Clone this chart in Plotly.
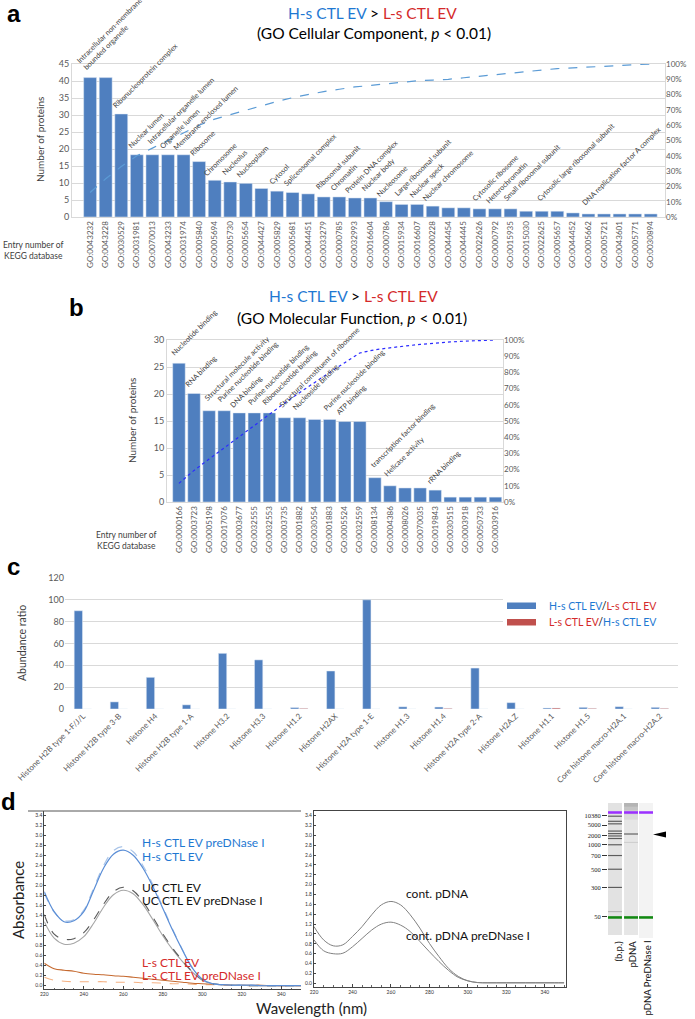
import plotly.graph_objects as go

W, H = 695, 1019
def px(x): return x / W
def py(y): return 1 - y / H

FONT = "Lato"
BLUE_T = "#1e78d2"
RED_T = "#d42a2a"
BAR = "#4f7fbf"
GRID = "#d9d9d9"
TICK = "#595959"

# ---------------- Panel a data ----------------
a_ids = ["GO:0043232","GO:0043228","GO:0030529","GO:0031981","GO:0070013","GO:0043233","GO:0031974",
         "GO:0005840","GO:0005694","GO:0005730","GO:0005654","GO:0044427","GO:0005829","GO:0005681",
         "GO:0044451","GO:0033279","GO:0000785","GO:0032993","GO:0016604","GO:0000786","GO:0015934",
         "GO:0016607","GO:0000228","GO:0044454","GO:0044445","GO:0022626","GO:0000792","GO:0015935",
         "GO:0015030","GO:0022625","GO:0005657","GO:0044452","GO:0005662","GO:0005721","GO:0043601",
         "GO:0005771","GO:0030894"]
a_counts = [41, 41, 30.3, 18.3, 18.3, 18.3, 18.3, 16.3, 10.8, 10.3, 9.9, 8.4, 7.6, 7.2, 6.8, 5.9, 5.9,
            5.6, 5.6, 4.5, 3.7, 3.7, 3.2, 2.7, 2.7, 2.4, 2.4, 2.4, 1.7, 1.7, 1.7, 1.2, 0.9, 0.9, 0.9, 0.9, 0.9]
a_cum_pct = [16, 25, 33, 40, 45, 50, 55, 60, 64, 67, 70, 73, 75.5, 78, 80, 82, 83.5, 85, 86, 87, 88, 89,
             89.5, 90, 91, 92, 93, 94, 95, 96, 97, 97.5, 98, 98.5, 99, 99.5, 100]
a_terms = ["Intracellular non-membrane-<br>bounded organelle", "", "Ribonucleoprotein complex",
           "Nuclear lumen", "Intracellular organelle lumen", "Organelle lumen", "Membrane-enclosed lumen",
           "Ribosome", "Chromosome", "Nucleolus", "Nucleoplasm", "", "Cytosol", "Spliceosomal complex", "",
           "Ribosomal subunit", "Chromatin", "Protein-DNA complex", "Nuclear body", "Nucleosome",
           "Large ribosomal subunit", "Nuclear speck", "Nuclear chromosome", "", "", "Cytosolic ribosome",
           "Heterochromatin", "Small ribosomal subunit", "", "Cytosolic large ribosomal subunit", "", "",
           "DNA replication factor A complex", "", "", "", ""]

# ---------------- Panel b data ----------------
b_ids = ["GO:0000166","GO:0003723","GO:0005198","GO:0017076","GO:0003677","GO:0032555","GO:0032553",
         "GO:0003735","GO:0001882","GO:0030554","GO:0001883","GO:0005524","GO:0032559","GO:0008134",
         "GO:0004386","GO:0008026","GO:0070035","GO:0019843","GO:0030515","GO:0003918","GO:0050733",
         "GO:0003916"]
b_counts = [25.7, 20.1, 16.9, 16.9, 16.5, 16.5, 16.5, 15.6, 15.6, 15.3, 15.3, 14.9, 14.9, 4.5, 3.0, 2.6,
            2.6, 2.2, 0.9, 0.9, 0.9, 0.9]
b_cum_pct = [11.5, 19.5, 26.5, 33.5, 40.5, 47.5, 54.5, 61, 67.5, 74, 80, 86, 92, 94, 95.3, 96.3, 97.3,
             98.2, 98.8, 99.3, 99.7, 100]
b_terms = ["Nucleotide binding", "RNA binding", "Structural molecule activity", "Purine nucleotide binding",
           "DNA binding", "Purine nucleotide binding", "Ribonucleotide binding",
           "Structural constituent of ribosome", "Nucleoside binding", "", "Purine nucleoside binding",
           "ATP binding", "", "transcription factor binding", "Helicase activity", "", "", "rRNA binding",
           "", "", "", ""]

# ---------------- Panel c data ----------------
c_cats = ["Histone H2B type 1-F/J/L", "Histone H2B type 3-B", "Histone H4", "Histone H2B type 1-A",
          "Histone H3.2", "Histone H3.3", "Histone H1.2", "Histone H2AX", "Histone H2A type 1-E",
          "Histone H1.3", "Histone H1.4", "Histone H2A type 2-A", "Histone H2A.Z", "Histone H1.1",
          "Histone H1.5", "Core histone macro-H2A.1", "Core histone macro-H2A.2"]
c_hs_ls = [90, 6.5, 29, 3.8, 51, 45, 1.3, 34.8, 100, 2.0, 1.8, 37.5, 5.8, 0.9, 1.5, 2.1, 1.5]
c_ls_hs = [0, 0, 0, 0, 0, 0, 0.6, 0, 0, 0, 0.6, 0, 0, 0.9, 0.6, 0, 0.6]

# ---------------- Panel d data ----------------
wl = [220, 225, 230, 235, 240, 245, 250, 255, 260, 265, 270, 275, 280, 285, 290, 295, 300, 305, 310,
      315, 320, 325, 330, 335, 340, 345, 350]
hs_ev = [1.88, 1.48, 1.28, 1.30, 1.48, 1.91, 2.35, 2.63, 2.71, 2.61, 2.35, 1.98, 1.55, 1.11, 0.71, 0.35,
         0.13, 0.04, 0.02, 0.01, 0.01, 0.01, 0.0, 0.0, 0.0, 0.0, 0.0]
hs_pre = [1.85, 1.47, 1.30, 1.32, 1.51, 1.95, 2.40, 2.70, 2.78, 2.68, 2.40, 2.02, 1.58, 1.13, 0.72, 0.36,
          0.13, 0.04, 0.02, 0.01, 0.01, 0.01, 0.0, 0.0, 0.0, 0.0, 0.0]
uc_ev = [1.28, 0.95, 0.83, 0.85, 0.98, 1.25, 1.57, 1.82, 1.91, 1.84, 1.62, 1.32, 1.00, 0.72, 0.48, 0.27,
         0.11, 0.04, 0.02, 0.01, 0.01, 0.0, 0.0, 0.0, 0.0, 0.0, 0.0]
uc_pre = [1.42, 1.03, 0.93, 0.94, 1.06, 1.32, 1.63, 1.88, 1.97, 1.90, 1.68, 1.37, 1.04, 0.75, 0.50, 0.28,
          0.12, 0.04, 0.02, 0.01, 0.01, 0.0, 0.0, 0.0, 0.0, 0.0, 0.0]
ls_ev = [0.45, 0.34, 0.31, 0.29, 0.25, 0.23, 0.22, 0.20, 0.19, 0.17, 0.15, 0.13, 0.11, 0.09, 0.07, 0.05,
         0.04, 0.03, 0.02, 0.01, 0.01, 0.01, 0.01, 0.0, 0.0, 0.0, 0.0]
ls_pre = [0.17, 0.11, 0.09, 0.08, 0.08, 0.08, 0.08, 0.07, 0.07, 0.07, 0.06, 0.06, 0.05, 0.04, 0.04, 0.03,
          0.02, 0.02, 0.01, 0.01, 0.01, 0.0, 0.0, 0.0, 0.0, 0.0, 0.0]
pdna = [1.15, 0.88, 0.76, 0.78, 0.95, 1.15, 1.39, 1.59, 1.66, 1.59, 1.39, 1.12, 0.81, 0.54, 0.30, 0.14,
        0.05, 0.015, 0.01, 0.01, 0.01, 0.01, 0.01, 0.01, 0.01, 0.01, 0.01]
pdna_pre = [0.88, 0.66, 0.60, 0.61, 0.74, 0.91, 1.08, 1.20, 1.24, 1.18, 1.05, 0.85, 0.64, 0.44, 0.26, 0.12,
            0.05, 0.015, 0.01, 0.01, 0.01, 0.01, 0.01, 0.01, 0.01, 0.01, 0.01]

# gel (migration distance from top of lane, arbitrary units)
ladder_bp = ["10380", "5000", "2000", "1000", "700", "500", "300", "50"]
ladder_tick_mig = [12.5, 22.7, 33, 42.3, 53.7, 67.7, 86.3, 116.3]
ladder_band_mig = [13.5, 18.7, 21.3, 28.7, 31.3, 33.7, 36.3, 42.7, 53.7, 67.7, 86.3]
pdna_band_mig = [31.7, 40.3]

fig = go.Figure()

# ---- a
fig.add_trace(go.Bar(x=a_ids, y=a_counts, marker_color=BAR, width=0.83, xaxis="x", yaxis="y",
                     showlegend=False))
fig.add_trace(go.Scatter(x=a_ids, y=a_cum_pct, mode="lines", xaxis="x", yaxis="y2",
                         line=dict(color="#5b9bd5", dash="dash", width=1.2), showlegend=False))
# ---- b
fig.add_trace(go.Bar(x=b_ids, y=b_counts, marker_color=BAR, width=0.83, xaxis="x2", yaxis="y3",
                     showlegend=False))
fig.add_trace(go.Scatter(x=b_ids, y=b_cum_pct, mode="lines", xaxis="x2", yaxis="y4",
                         line=dict(color="#2b2bff", dash="dot", width=1.2), showlegend=False))
# ---- c
fig.add_trace(go.Bar(x=c_cats, y=c_hs_ls, marker_color=BAR, width=0.23, offset=-0.245,
                     xaxis="x3", yaxis="y5", showlegend=False))
fig.add_trace(go.Bar(x=c_cats, y=c_ls_hs, marker_color="#c0504d", width=0.23, offset=0.005,
                     xaxis="x3", yaxis="y5", showlegend=False))
# ---- d left
for ys, col, dash, w in [(ls_pre, "#f4b183", "dash", 1.1), (ls_ev, "#c5692f", "solid", 1.1),
                         (uc_ev, "#a6a6a6", "solid", 1.1), (uc_pre, "#595959", "dash", 1.1),
                         (hs_pre, "#a9c4e8", "dash", 1.2), (hs_ev, "#5b8ed6", "solid", 1.2)]:
    fig.add_trace(go.Scatter(x=wl, y=ys, mode="lines", line=dict(color=col, dash=dash, width=w, shape="spline"),
                             xaxis="x4", yaxis="y6", showlegend=False))
# ---- d middle
for ys in [pdna, pdna_pre]:
    fig.add_trace(go.Scatter(x=wl, y=ys, mode="lines", line=dict(color="#808080", width=1, shape="spline"),
                             xaxis="x5", yaxis="y7", showlegend=False))

shapes = []
annotations = []

def ann(text, x, y, size, color="#000000", xanchor="center", yanchor="middle", angle=0, family=FONT, align="center"):
    annotations.append(dict(text=text, x=px(x), y=py(y), xref="paper", yref="paper", showarrow=False,
                            font=dict(size=size, color=color, family=family), xanchor=xanchor,
                            yanchor=yanchor, textangle=angle, align=align))

# panel letters
for t, x, y in [("a", 14, 13), ("b", 76, 308), ("c", 13, 566), ("d", 8, 801)]:
    ann("<b>%s</b>" % t, x, y, 24, "#000000", family="Liberation Sans")

title1 = ('<span style="color:%s">H-s CTL EV</span> &gt; <span style="color:%s">L-s CTL EV</span>'
          % (BLUE_T, RED_T))
ann(title1, 373, 13, 15.5)
ann("(GO Cellular Component, <i>p</i> &lt; 0.01)", 374, 33, 15.5)
ann(title1, 353, 296, 15.5)
ann("(GO Molecular Function, <i>p</i> &lt; 0.01)", 352, 318, 15.5)

# axis titles
ann("Number of proteins", 40, 140, 10, "#404040", angle=-90)
ann("Number of proteins", 132, 421, 10, "#404040", angle=-90)
ann("Entry number of<br>KEGG database", 33, 250, 8.5, "#404040")
ann("Entry number of<br>KEGG database", 126, 540, 8.5, "#404040")
ann("Abundance ratio", 22, 643, 10.5, "#404040", angle=-90)
ann("Absorbance", 18, 900, 15, "#222222", angle=-90)
ann("Wavelength (nm)", 311, 1008, 15, "#222222")

# bar labels a & b: rotated text, start just above the bar top
LBL_SIZE = 7.3
CHAR_W = 3.45
LINE_H = 9.5
def bar_label(text, i, val, xref, yref):
    lines = text.split("<br>")
    L = max(len(s) for s in lines) * CHAR_W
    h = LINE_H * len(lines)
    xs = -3 + 0.354 * L - 0.354 * h
    ys = 5 + 0.354 * L + 0.354 * h
    annotations.append(dict(text=text, x=i, y=val, xref=xref, yref=yref, showarrow=False,
                            textangle=-45, xanchor="center", yanchor="middle", xshift=xs, yshift=ys,
                            align="left", font=dict(size=LBL_SIZE, color="#404040", family=FONT)))

for i, t in enumerate(a_terms):
    if t:
        bar_label(t, i, a_counts[i], "x", "y")
for i, t in enumerate(b_terms):
    if t:
        bar_label(t, i, b_counts[i], "x2", "y3")

# legend c (manual)
shapes.append(dict(type="rect", xref="paper", yref="paper", x0=px(503), x1=px(682), y0=py(632), y1=py(572),
                   fillcolor="white", line=dict(width=0), layer="above"))
shapes.append(dict(type="rect", xref="paper", yref="paper", x0=px(507), x1=px(536), y0=py(609), y1=py(602.5),
                   fillcolor=BAR, line=dict(width=0)))
shapes.append(dict(type="rect", xref="paper", yref="paper", x0=px(507), x1=px(536), y0=py(625.5), y1=py(619),
                   fillcolor="#c0504d", line=dict(width=0)))
ann('<span style="color:%s">H-s CTL EV</span>/<span style="color:%s">L-s CTL EV</span>' % (BLUE_T, RED_T),
    547, 606, 10.5, xanchor="left")
ann('<span style="color:%s">L-s CTL EV</span>/<span style="color:%s">H-s CTL EV</span>' % (RED_T, BLUE_T),
    547, 622, 10.5, xanchor="left")

# d labels
ann("H-s CTL EV preDNase I", 140, 842, 12, BLUE_T, xanchor="left")
ann("H-s CTL EV", 140, 856, 12, BLUE_T, xanchor="left")
ann("UC CTL EV", 140, 887, 12, "#111111", xanchor="left")
ann("UC CTL EV preDNase I", 140, 900, 12, "#111111", xanchor="left")
ann("L-s CTL EV", 140, 962, 12, RED_T, xanchor="left")
ann("L-s CTL EV preDNase I", 140, 975, 12, RED_T, xanchor="left")
ann("cont. pDNA", 404, 893, 12, "#111111", xanchor="left")
ann("cont. pDNA preDNase I", 404, 935, 12, "#111111", xanchor="left")

# top frame line of left spectrum
shapes.append(dict(type="line", xref="paper", yref="paper", x0=px(28), x1=px(301), y0=py(811), y1=py(811),
                   line=dict(color="#555555", width=1)))

# gel lanes
lanes = [(0.0, 0.93, "#e2e2e2", 135), (1.07, 2.0, "#e6e6e6", 135), (2.07, 3.0, "#f3f3f3", 138)]
for x0, x1, col, bot in lanes:
    shapes.append(dict(type="rect", xref="x6", yref="y8", x0=x0, x1=x1, y0=0, y1=bot, fillcolor=col,
                       line=dict(width=0), layer="below"))
# pDNA smear
for (y0, y1, col) in [(0, 4, "#b4b4b4"), (4, 8, "#c4c4c4"), (8, 12, "#d0d0d0"), (12, 17, "#dbdbdb")]:
    shapes.append(dict(type="rect", xref="x6", yref="y8", x0=1.07, x1=2.0, y0=y0, y1=y1, fillcolor=col,
                       line=dict(width=0)))
for m in ladder_band_mig:
    shapes.append(dict(type="rect", xref="x6", yref="y8", x0=0.0, x1=0.93, y0=m - 0.6, y1=m + 0.6,
                       fillcolor="#5c5c5c", line=dict(width=0)))
shapes.append(dict(type="rect", xref="x6", yref="y8", x0=0.0, x1=0.93, y0=110.4, y1=111.6,
                   fillcolor="#b8b8b8", line=dict(width=0)))
for m, col in zip(pdna_band_mig, ["#606060", "#cfcfcf"]):
    shapes.append(dict(type="rect", xref="x6", yref="y8", x0=1.07, x1=2.0, y0=m - 0.6, y1=m + 0.6,
                       fillcolor=col, line=dict(width=0)))
for x0, x1, _, _ in lanes:
    shapes.append(dict(type="rect", xref="x6", yref="y8", x0=x0, x1=x1, y0=8.4, y1=11, fillcolor="#9b30ff",
                       line=dict(width=0)))
    shapes.append(dict(type="rect", xref="x6", yref="y8", x0=x0, x1=x1, y0=115.7, y1=118.3,
                       fillcolor="#118811", line=dict(width=0)))
# arrowhead
shapes.append(dict(type="path", xref="paper", yref="paper",
                   path="M %f,%f L %f,%f L %f,%f Z" % (px(666), py(831.5), px(653), py(834.5), px(666), py(837.5)),
                   fillcolor="#000000", line=dict(width=0)))
ann("(b.p.)", 618, 939, 9.5, "#111111", xanchor="center", yanchor="top", angle=-90)
ann("pDNA", 632, 939, 9.5, "#111111", xanchor="center", yanchor="top", angle=-90)
ann("pDNA PreDNase I", 647, 939, 9.5, "#111111", xanchor="center", yanchor="top", angle=-90)

tf = dict(family=FONT, size=9, color=TICK)
tf8 = dict(family=FONT, size=8, color=TICK)
tf5 = dict(family=FONT, size=5, color="#333333")

fig.update_layout(
    width=W, height=H, margin=dict(l=0, r=0, t=0, b=0, autoexpand=False),
    paper_bgcolor="white", plot_bgcolor="white", barmode="overlay",
    font=dict(family=FONT),
    shapes=shapes, annotations=annotations,
    # a
    xaxis=dict(domain=[px(72), px(665)], anchor="y", type="category", tickangle=-90, tickfont=tf8,
               showline=True, linecolor=GRID, mirror=True, showgrid=False, ticks="", automargin=False),
    yaxis=dict(domain=[py(217), py(64)], anchor="x", range=[0, 45], dtick=5, gridcolor=GRID,
               tickfont=tf, showline=True, linecolor=GRID, mirror=True, zeroline=False, automargin=False),
    yaxis2=dict(overlaying="y", anchor="x", side="right", range=[0, 100], dtick=10, ticksuffix="%",
                showgrid=False, zeroline=False, tickfont=tf8, automargin=False),
    # b
    xaxis2=dict(domain=[px(167), px(503)], anchor="y3", type="category", tickangle=-90, tickfont=tf8,
                showline=True, linecolor=GRID, mirror=True, showgrid=False, ticks="", automargin=False),
    yaxis3=dict(domain=[py(502), py(340)], anchor="x2", range=[0, 30], dtick=5, gridcolor=GRID,
                tickfont=tf, showline=True, linecolor=GRID, mirror=True, zeroline=False, automargin=False),
    yaxis4=dict(overlaying="y3", anchor="x2", side="right", range=[0, 100], dtick=10, ticksuffix="%",
                showgrid=False, zeroline=False, tickfont=tf8, automargin=False),
    # c
    xaxis3=dict(domain=[px(65), px(678)], anchor="y5", type="category", tickangle=-45, tickfont=tf8,
                showline=False, showgrid=False, ticks="", automargin=False),
    yaxis5=dict(domain=[py(709), py(578)], anchor="x3", range=[0, 120], dtick=20, gridcolor=GRID,
                tickfont=tf, zeroline=False, showline=False, automargin=False),
    # d left
    xaxis4=dict(domain=[px(44.3), px(301)], anchor="y6", range=[220, 350], tickvals=[220, 240, 260, 280, 300, 320, 340],
                tickfont=tf5, showline=True, linecolor="#444444", ticks="inside", ticklen=3, tickcolor="#444444",
                showgrid=False, zeroline=False, automargin=False,
                minor=dict(ticks="inside", ticklen=1.5, dtick=5, tickcolor="#666666")),
    yaxis6=dict(domain=[py(989), py(811)], anchor="x4", range=[-0.066, 3.494],
                tickvals=[i / 5 for i in range(18)], tickformat=".1f", tickfont=tf5, showline=True,
                linecolor="#444444", ticks="inside", ticklen=2, tickcolor="#444444", showgrid=False,
                zeroline=False, automargin=False),
    # d middle
    xaxis5=dict(domain=[px(314), px(566)], anchor="y7", range=[220, 351], tickvals=[220, 240, 260, 280, 300, 320, 340],
                tickfont=tf5, showline=True, linecolor="#444444", mirror=True, ticks="inside", ticklen=3,
                tickcolor="#444444", showgrid=False, zeroline=False, automargin=False,
                minor=dict(ticks="inside", ticklen=1.5, dtick=5, tickcolor="#666666")),
    yaxis7=dict(domain=[py(986.7), py(810.7)], anchor="x5", range=[-0.069, 3.50],
                tickvals=[i / 5 for i in range(18)], tickformat=".1f", tickfont=tf5, showline=True,
                linecolor="#444444", mirror=True, ticks="inside", ticklen=2, tickcolor="#444444",
                showgrid=False, zeroline=False, automargin=False),
    # gel
    xaxis6=dict(domain=[px(608), px(653)], anchor="y8", range=[0, 3], visible=False, automargin=False),
    yaxis8=dict(domain=[py(938), py(803)], anchor="x6", range=[138, 0], tickvals=ladder_tick_mig,
                ticktext=ladder_bp, ticks="outside", ticklen=5, tickcolor="#333333",
                tickfont=dict(family="Liberation Sans Narrow", size=6.5, color="#222222"),
                showgrid=False, zeroline=False, showline=False, automargin=False),
)

fig.write_html("out.html", config={"displayModeBar": False},
               post_script="document.body.style.margin='0';")
